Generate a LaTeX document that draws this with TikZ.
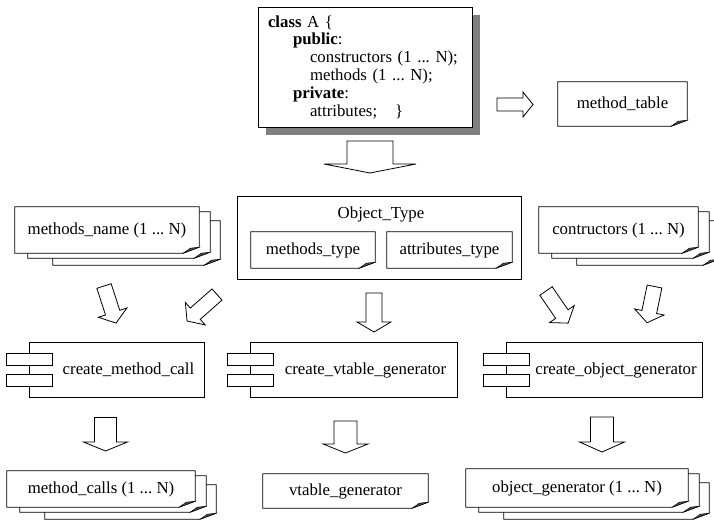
\documentclass[tikz,border=0pt]{standalone}
\usepackage{fontspec}
\setmainfont{Liberation Serif}
\usepackage{tikz}
\usetikzlibrary{calc,shadows,backgrounds}

\frenchspacing
\newcommand{\diagfont}{\fontsize{16.8}{17.8}\selectfont}

%% hollow block arrow: start, angle, length, half shaft, half head, head length
\newcommand{\blockarrow}[6]{%
  \draw[arrowline,shift={#1},rotate=#2] (-#4,0) -- (#4,0) -- (#4,#3-#6) -- (#5,#3-#6)
    -- (0,#3) -- (-#5,#3-#6) -- (-#4,#3-#6) -- cycle;}

%% page with folded corner round node #1 (offsets left, top, right, bottom)
\newcommand{\docpage}[5]{%
  \filldraw[docline] ($(#1.north west)+(#2,#3)$) -- ($(#1.north east)+(#4,#3)$)
    -- ($(#1.south east)+(#4,#5-6)$) -- ($(#1.south east)+(#4-16,#5)$)
    -- ($(#1.south west)+(#2,#5)$) -- cycle;
  \filldraw[foldline] ($(#1.south east)+(#4,#5-6)$) -- ($(#1.south east)+(#4-16,#5)$)
    -- ($(#1.south east)+(#4-9,#5-5)$) -- cycle;}

%% three pages
\newcommand{\docstack}[1]{%
  \docpage{#1}{38}{14}{21}{12}
  \docpage{#1}{13}{5}{11}{5}
  \docpage{#1}{0}{0}{0}{0}}

%% component box with two tabs left of node #1
\newcommand{\component}[1]{%
  \draw[boxline] ($(#1.north west)+(-23,0)$) rectangle (#1.south east);
  \filldraw[boxline,fill=white] ($(#1.west)+(-46,-16.5)$) rectangle ($(#1.west)+(0,-4.5)$);
  \filldraw[boxline,fill=white] ($(#1.west)+(-46,4.5)$) rectangle ($(#1.west)+(0,16.5)$);}

\begin{document}
\begin{tikzpicture}[x=1pt,y=-1pt,
  boxline/.style={line width=0.8pt},
  docline/.style={line width=0.8pt,fill=white},
  foldline/.style={line width=0.4pt,fill=gray!60!black},
  arrowline/.style={line width=0.8pt,fill=white},
  txt/.style={font=\diagfont,inner sep=0pt},
  classbox/.style={draw,line width=0.8pt,fill=white,font=\diagfont,
    text width=194pt,align=left,inner xsep=10pt,inner ysep=0pt,minimum height=120pt,
    drop shadow={shadow xshift=8pt,shadow yshift=-8pt,fill=gray,opacity=1}}]

\useasboundingbox (0,0) rectangle (714,526);

%% class declaration
\node[classbox] (classA) at (365,67) {\textbf{class} A \{\\
\hspace*{25pt}\textbf{public}:\\
\hspace*{42pt}constructors (1 ... N);\\
\hspace*{42pt}methods (1 ... N);\\
\hspace*{25pt}\textbf{private}:\\
\hspace*{42pt}attributes;\hspace*{18pt}\}};

%% tables and types
\node[txt,minimum width=129pt,minimum height=44pt] (mtable) at (622.5,104) {method\_table};
\node[txt,minimum width=184pt,minimum height=46pt] (mname) at (107,230) {methods\_name (1 ... N)};
\node[txt,minimum width=159pt,minimum height=46pt] (ctors) at (618.5,230) {contructors (1 ... N)};
\node[draw,boxline,minimum width=284pt,minimum height=83pt] (otype) at (379,237.5) {};
\node[txt] (otypelabel) at (381,214) {Object\_Type};
\node[txt,minimum width=124pt,minimum height=36pt] (mtype) at (313,250) {methods\_type};
\node[txt,minimum width=125pt,minimum height=36pt] (atype) at (449.5,250) {attributes\_type};

%% generators
\node[txt,minimum width=151pt,minimum height=54pt] (cmc) at (128.5,370) {create\_method\_call};
\node[txt,minimum width=183pt,minimum height=54pt] (cvg) at (365.5,370) {create\_vtable\_generator};
\node[txt,minimum width=172pt,minimum height=54pt] (cog) at (616,370) {create\_object\_generator};

%% outputs
\node[txt,minimum width=188pt,minimum height=36pt] (mcalls) at (101,489) {method\_calls (1 ... N)};
\node[txt,minimum width=165pt,minimum height=34pt] (vgen) at (345.5,491) {vtable\_generator};
\node[txt,minimum width=222pt,minimum height=38pt] (ogen) at (577,488) {object\_generator (1 ... N)};

%% pages
\begin{scope}[on background layer]
\docpage{mtable}{0}{0}{0}{0}
\docstack{mname}
\docstack{ctors}
\docpage{mtype}{0}{0}{0}{0}
\docpage{atype}{0}{0}{0}{0}
\docstack{mcalls}
\docpage{vgen}{0}{0}{0}{0}
\docstack{ogen}
\end{scope}

%% components
\component{cmc}
\component{cvg}
\component{cog}

%% arrows
\blockarrow{(497,104.5)}{90}{36}{6.5}{12.5}{10}
\blockarrow{(370,141)}{0}{32}{23}{46}{9}
\blockarrow{(104,286)}{18}{39}{7.5}{15}{11}
\blockarrow{(217,294.5)}{-48.5}{40}{7.5}{15}{11}
\blockarrow{(374,293)}{0}{39}{8}{17}{10}
\blockarrow{(546,291)}{34.5}{39}{7.5}{15}{11}
\blockarrow{(654.5,286.5)}{-11.6}{37}{7.5}{15}{11}
\blockarrow{(105.5,417.5)}{0}{33.5}{11}{22}{9}
\blockarrow{(345.5,421)}{0}{32}{11.5}{22.5}{9}
\blockarrow{(602,417)}{0}{35}{11.5}{22.5}{10}

\end{tikzpicture}
\end{document}
